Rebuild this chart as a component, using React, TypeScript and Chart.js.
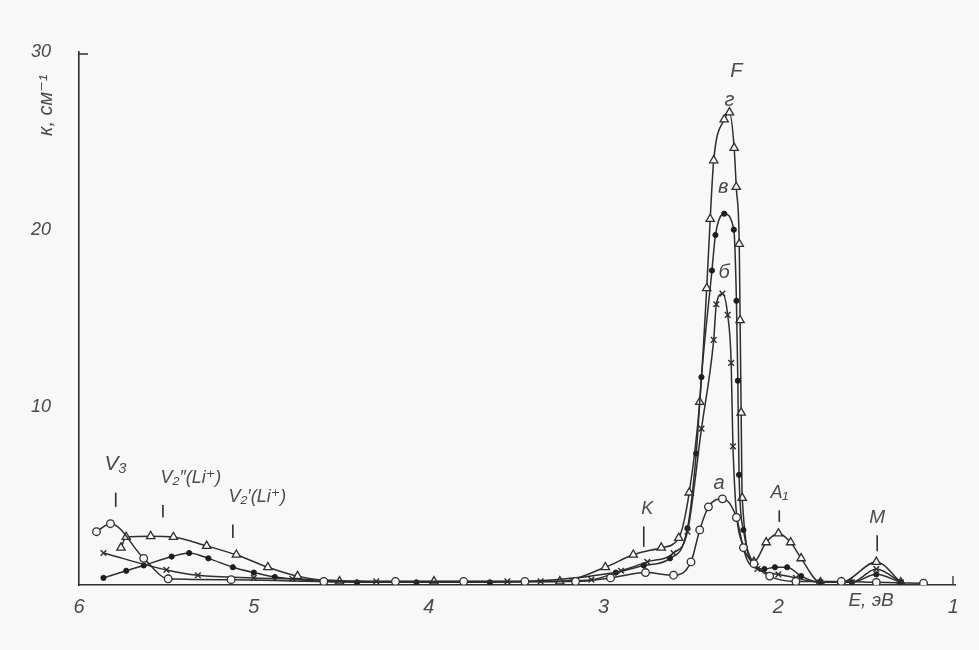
import React, { useEffect, useRef } from 'react';
import { Chart, registerables } from 'chart.js';
Chart.register(...registerables);

// curve а (circles)
const energyA = [5.90, 5.82, 5.63, 5.49, 5.13, 4.60, 4.19, 3.80, 3.45, 3.16, 2.96, 2.76, 2.60, 2.50, 2.45, 2.40, 2.32, 2.24, 2.20, 2.14, 2.05, 1.90, 1.64, 1.44, 1.17];
const absorbA = [3.0, 3.45, 1.5, 0.35, 0.3, 0.2, 0.2, 0.2, 0.2, 0.2, 0.4, 0.7, 0.55, 1.3, 3.1, 4.4, 4.85, 3.8, 2.1, 1.2, 0.5, 0.2, 0.2, 0.15, 0.1];

// curve б (crosses)
const energyB = [5.86, 5.50, 5.32, 5.00, 4.78, 4.30, 3.55, 3.36, 3.07, 2.90, 2.75, 2.60, 2.52, 2.44, 2.37, 2.355, 2.32, 2.29, 2.27, 2.26, 2.20, 2.12, 2.00, 1.90, 1.76, 1.58, 1.44, 1.30];
const absorbB = [1.8, 0.85, 0.55, 0.4, 0.35, 0.2, 0.2, 0.2, 0.3, 0.8, 1.3, 1.8, 3.0, 8.8, 13.8, 15.8, 16.4, 15.2, 12.5, 7.8, 2.1, 0.9, 0.6, 0.4, 0.15, 0.15, 0.9, 0.15];

// curve в (dots)
const energyV = [5.86, 5.73, 5.63, 5.47, 5.37, 5.26, 5.12, 5.00, 4.88, 4.41, 4.07, 3.65, 2.93, 2.77, 2.62, 2.52, 2.47, 2.44, 2.38, 2.36, 2.31, 2.255, 2.24, 2.232, 2.225, 2.20, 2.14, 2.08, 2.02, 1.95, 1.87, 1.76, 1.58, 1.44, 1.30];
const absorbV = [0.4, 0.8, 1.1, 1.6, 1.8, 1.5, 1.0, 0.7, 0.45, 0.15, 0.15, 0.15, 0.7, 1.1, 1.5, 3.2, 7.4, 11.7, 17.7, 19.7, 20.9, 20.0, 16.0, 11.5, 6.2, 3.1, 1.2, 0.9, 1.0, 1.0, 0.5, 0.15, 0.15, 0.6, 0.15];

// curve г (triangles)
const energyG = [5.76, 5.73, 5.59, 5.46, 5.27, 5.10, 4.92, 4.75, 4.51, 3.97, 3.25, 2.99, 2.83, 2.67, 2.57, 2.51, 2.45, 2.41, 2.39, 2.37, 2.31, 2.28, 2.253, 2.241, 2.224, 2.219, 2.213, 2.207, 2.14, 2.07, 2.00, 1.93, 1.87, 1.76, 1.64, 1.44, 1.30];
const absorbG = [2.1, 2.7, 2.75, 2.7, 2.2, 1.7, 1.0, 0.5, 0.2, 0.2, 0.2, 1.0, 1.7, 2.1, 2.65, 5.2, 10.3, 16.7, 20.6, 23.9, 26.2, 26.6, 24.6, 22.4, 19.2, 14.9, 9.7, 4.9, 1.3, 2.4, 2.9, 2.4, 1.5, 0.15, 0.15, 1.3, 0.15];

const xTickValues = [6, 5, 4, 3, 2, 1];
const yTickValues = [10, 20, 30];

const peakLabels = [
  { text: 'F', e: 2.24, k: 28.9, size: 20 },
  { text: 'г', e: 2.28, k: 27.3, size: 20 },
  { text: 'в', e: 2.316, k: 22.4, size: 20 },
  { text: 'б', e: 2.31, k: 17.6, size: 20 },
  { text: 'а', e: 2.34, k: 5.7, size: 20 },
  { text: 'V₃', e: 5.79, k: 6.8, size: 21 },
  { text: 'V₂″(Li⁺)', e: 5.36, k: 6.0, size: 18 },
  { text: 'V₂′(Li⁺)', e: 4.98, k: 4.95, size: 18 },
  { text: 'K', e: 2.75, k: 4.3, size: 18 },
  { text: 'A₁', e: 1.995, k: 5.2, size: 18 },
  { text: 'M', e: 1.435, k: 3.8, size: 19 },
];
const peakMarks = [
  { e: 5.79, k1: 5.2, k2: 4.4 },
  { e: 5.52, k1: 4.5, k2: 3.8 },
  { e: 5.12, k1: 3.4, k2: 2.65 },
  { e: 2.77, k1: 3.3, k2: 2.15 },
  { e: 1.995, k1: 4.2, k2: 3.55 },
  { e: 1.435, k1: 2.8, k2: 1.9 },
];

const BG = '#f8f8f8';
const INK = '#2e2e2e';
const TXT = '#4a4a4a';
const FONT = '"Liberation Sans", "DejaVu Sans", sans-serif';

const toPts = (es: number[], ks: number[]) => es.map((e, i) => ({ x: e, y: ks[i] }));

const annotations = {
  id: 'annotations',
  afterDraw(chart: any) {
    const { ctx, scales } = chart;
    const x = scales.x, y = scales.y;
    ctx.save();
    ctx.fillStyle = TXT;
    ctx.strokeStyle = INK;
    ctx.textAlign = 'center';
    ctx.textBaseline = 'middle';
    peakLabels.forEach((l) => {
      ctx.font = `italic ${l.size}px ${FONT}`;
      ctx.fillText(l.text, x.getPixelForValue(l.e), y.getPixelForValue(l.k));
    });
    ctx.lineWidth = 1.6;
    peakMarks.forEach((m) => {
      const px = x.getPixelForValue(m.e);
      ctx.beginPath();
      ctx.moveTo(px, y.getPixelForValue(m.k1));
      ctx.lineTo(px, y.getPixelForValue(m.k2));
      ctx.stroke();
    });
    ctx.lineWidth = 1.3;
    const { left, top, bottom, right } = chart.chartArea;
    ctx.beginPath();
    ctx.moveTo(left, top + 2);
    ctx.lineTo(left + 9, top + 2);
    ctx.moveTo(right - 2, bottom);
    ctx.lineTo(right - 2, bottom - 9);
    ctx.stroke();
    ctx.font = `italic 19px ${FONT}`;
    ctx.fillText('E, эВ', x.getPixelForValue(1.47), bottom + 16);
    ctx.translate(46, y.getPixelForValue(27));
    ctx.rotate(-Math.PI / 2);
    ctx.font = `italic 20px ${FONT}`;
    ctx.fillText('к, см⁻¹', 0, 0);
    ctx.restore();
  },
};

export default function App() {
  const ref = useRef<HTMLCanvasElement | null>(null);
  useEffect(() => {
    if (!ref.current) return;
    const common = { borderColor: INK, borderWidth: 1.5, showLine: true, cubicInterpolationMode: 'monotone' as const, fill: false };
    const chart = new Chart(ref.current, {
      type: 'scatter',
      data: {
        datasets: [
          { ...common, label: 'а', data: toPts(energyA, absorbA), pointStyle: 'circle', pointRadius: 3.8, pointBackgroundColor: BG, pointBorderColor: INK, pointBorderWidth: 1.3 },
          { ...common, label: 'б', data: toPts(energyB, absorbB), pointStyle: 'crossRot', pointRadius: 4, pointBorderColor: INK, pointBorderWidth: 1.4 },
          { ...common, label: 'в', data: toPts(energyV, absorbV), pointStyle: 'circle', pointRadius: 2.6, pointBackgroundColor: '#1e1e1e', pointBorderColor: '#1e1e1e', pointBorderWidth: 1 },
          { ...common, label: 'г', data: toPts(energyG, absorbG), pointStyle: 'triangle', pointRadius: 4.8, pointBackgroundColor: BG, pointBorderColor: INK, pointBorderWidth: 1.3 },
        ],
      },
      options: {
        responsive: false,
        animation: false,
        layout: { padding: { top: 52, right: 24, left: 0, bottom: 0 } },
        plugins: { legend: { display: false }, tooltip: { enabled: false } },
        scales: {
          x: {
            type: 'linear',
            reverse: true,
            min: 0.99,
            max: 6,
            afterBuildTicks: (s: any) => { s.ticks = xTickValues.map((v) => ({ value: v })); },
            afterFit: (s: any) => { s.height = 65; },
            grid: { display: false, drawTicks: false },
            border: { display: true, color: INK, width: 1.6 },
            ticks: { color: TXT, padding: 10, font: { size: 20, style: 'italic', family: FONT }, callback: (v: any) => String(v) },
          },
          y: {
            type: 'linear',
            min: 0,
            max: 30,
            afterBuildTicks: (s: any) => { s.ticks = yTickValues.map((v) => ({ value: v })); },
            afterFit: (s: any) => { s.width = 79; },
            grid: { display: false, drawTicks: false },
            border: { display: true, color: INK, width: 1.6 },
            ticks: { color: TXT, padding: 28, font: { size: 18, style: 'italic', family: FONT }, callback: (v: any) => String(v) },
          },
        },
      },
      plugins: [annotations],
    } as any);
    return () => chart.destroy();
  }, []);
  return (
    <div style={{ position: 'absolute', left: 0, top: 0, width: 979, height: 650, background: BG }}>
      <canvas ref={ref} width={979} height={650} />
    </div>
  );
}
